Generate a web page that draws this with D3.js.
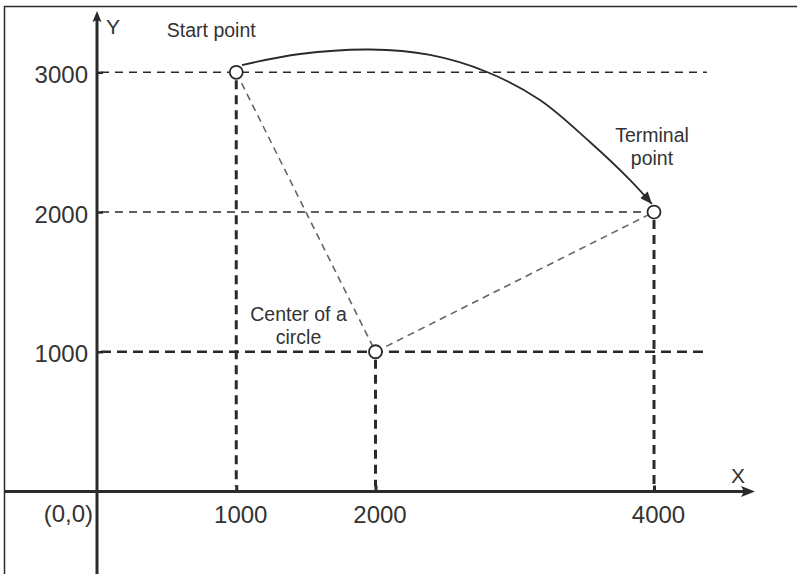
<!DOCTYPE html>
<html>
<head>
<meta charset="utf-8">
<script src="https://cdn.jsdelivr.net/npm/d3@7"></script>
<style>
  html, body { margin: 0; padding: 0; background: #fff; }
  svg { display: block; }
  text { font-family: "Liberation Sans", Arial, sans-serif; fill: #333; }
</style>
</head>
<body>
<svg id="chart" width="797" height="574"></svg>
<script>
// ---- data ----
const xTicks = [1000, 2000, 4000];
const yTicks = [1000, 2000, 3000];
const startPoint = { x: 1000, y: 3000 };
const centerPoint = { x: 2000, y: 1000 };
const terminalPoint = { x: 4000, y: 2000 };
const startLabel = ["Start point"];
const centerLabel = ["Center of a", "circle"];
const terminalLabel = ["Terminal", "point"];
const originLabel = "(0,0)";
const xAxisLabel = "X";
const yAxisLabel = "Y";
// arc from start to terminal point (data units)
const arcX = [1041, 1458, 1961, 2391, 2801, 3181, 3540, 3827, 3985];
const arcY = [3052, 3131, 3163, 3124, 3002, 2802, 2501, 2230, 2058];

// ---- layout ----
const W = 797, H = 574;
const svg = d3.select("#chart");
const x = d3.scaleLinear().domain([0, 4000]).range([97, 654]);
const y = d3.scaleLinear().domain([0, 3000]).range([491.5, 72.3]);
const ink = "#2b2b2b";

// frame (top and left)
svg.append("path").attr("d", `M4.5,${H} V6.5 H${W}`)
  .attr("fill", "none").attr("stroke", ink).attr("stroke-width", 1.5);

// horizontal guides
const hGuides = [
  { v: 3000, x1: 0, x2: 4380, w: 1.6, dash: "8,6" },
  { v: 2000, x1: 0, x2: 3960, w: 1.6, dash: "8,6" },
  { v: 1000, x1: 0, x2: 4390, w: 2.6, dash: "10,6" }
];
svg.append("g").selectAll("line").data(hGuides).join("line")
  .attr("x1", d => x(d.x1) + 4).attr("x2", d => x(d.x2))
  .attr("y1", d => y(d.v)).attr("y2", d => y(d.v))
  .attr("stroke", ink).attr("stroke-width", d => d.w)
  .attr("stroke-dasharray", d => d.dash);

// vertical guides from points down to x axis
const vPts = [startPoint, centerPoint, terminalPoint];
svg.append("g").selectAll("line").data(vPts).join("line")
  .attr("x1", d => x(d.x)).attr("x2", d => x(d.x))
  .attr("y1", d => y(d.y) + 8).attr("y2", y(0) - 5)
  .attr("stroke", ink).attr("stroke-width", 3)
  .attr("stroke-dasharray", "9,6");

// diagonal radius lines
const radii = [[startPoint, centerPoint], [centerPoint, terminalPoint]];
svg.append("g").selectAll("line").data(radii).join("line")
  .attr("x1", d => x(d[0].x)).attr("y1", d => y(d[0].y))
  .attr("x2", d => x(d[1].x)).attr("y2", d => y(d[1].y))
  .attr("stroke", "#666").attr("stroke-width", 1.6)
  .attr("stroke-dasharray", "7,5");

// axes via d3 axis generators
const yAxis = d3.axisLeft(y).tickValues(yTicks).tickFormat(d3.format("d"))
  .tickSizeInner(-6).tickSizeOuter(0).tickPadding(9);
const gy = svg.append("g").attr("transform", `translate(${x(0)},0)`).call(yAxis);
gy.select(".domain").remove();
gy.selectAll(".tick line").attr("stroke", ink).attr("stroke-width", 2.5);
gy.selectAll(".tick text").attr("font-size", 24).attr("dy", "0.42em")
  .attr("fill", "#333").style("font-family", "'Liberation Sans', Arial, sans-serif");

const xAxis = d3.axisBottom(x).tickValues(xTicks).tickFormat(d3.format("d"))
  .tickSizeInner(-6).tickSizeOuter(0).tickPadding(14);
const gx = svg.append("g").attr("transform", `translate(0,${y(0)})`).call(xAxis);
gx.select(".domain").remove();
gx.selectAll(".tick line").attr("stroke", ink).attr("stroke-width", 3);
gx.selectAll(".tick text").attr("font-size", 24).attr("x", 4)
  .attr("fill", "#333").style("font-family", "'Liberation Sans', Arial, sans-serif");

// axis lines with arrows
svg.append("line").attr("x1", 4).attr("x2", 748).attr("y1", y(0)).attr("y2", y(0))
  .attr("stroke", ink).attr("stroke-width", 3);
svg.append("path")
  .attr("d", `M755,${y(0)} L741,${y(0) - 5.5} L744,${y(0)} L741,${y(0) + 5.5} Z`)
  .attr("fill", ink);
svg.append("line").attr("x1", x(0)).attr("x2", x(0)).attr("y1", H).attr("y2", 18)
  .attr("stroke", ink).attr("stroke-width", 3);
svg.append("path")
  .attr("d", `M${x(0)},11 L${x(0) - 4.5},22 L${x(0)},20 L${x(0) + 4.5},22 Z`)
  .attr("fill", ink);

// arc with arrowhead
svg.append("defs").append("marker")
  .attr("id", "arrow").attr("viewBox", "0 0 12 10")
  .attr("refX", 12).attr("refY", 5)
  .attr("markerWidth", 13).attr("markerHeight", 10)
  .attr("markerUnits", "userSpaceOnUse").attr("orient", "auto")
  .append("path").attr("d", "M0,0 L12,5 L0,10 Z").attr("fill", ink);

const arcData = arcX.map((v, i) => [v, arcY[i]]);
svg.append("path")
  .datum(arcData)
  .attr("d", d3.line().x(d => x(d[0])).y(d => y(d[1])).curve(d3.curveCatmullRom.alpha(0.5)))
  .attr("fill", "none").attr("stroke", ink).attr("stroke-width", 1.8)
  .attr("marker-end", "url(#arrow)");

// points
svg.append("g").selectAll("circle").data(vPts).join("circle")
  .attr("cx", d => x(d.x)).attr("cy", d => y(d.y)).attr("r", 6.5)
  .attr("fill", "#fff").attr("stroke", ink).attr("stroke-width", 1.8);

// labels
function multiLabel(lines, cx, baseY, lh) {
  const t = svg.append("text").attr("text-anchor", "middle").attr("font-size", 19.5);
  lines.forEach((s, i) => t.append("tspan").attr("x", cx).attr("y", baseY + i * lh).text(s));
}
multiLabel(startLabel, x(startPoint.x) - 25, y(startPoint.y) - 35, 23);
multiLabel(centerLabel, x(centerPoint.x) - 77, y(centerPoint.y) - 31, 23);
multiLabel(terminalLabel, x(terminalPoint.x) - 2, y(terminalPoint.y) - 70, 23);

svg.append("text").attr("x", x(0) - 4).attr("y", y(0) + 30.5)
  .attr("text-anchor", "end").attr("font-size", 24).text(originLabel);
svg.append("text").attr("x", 106).attr("y", 34).attr("font-size", 21).text(yAxisLabel);
svg.append("text").attr("x", 731).attr("y", 483).attr("font-size", 21).text(xAxisLabel);
</script>
</body>
</html>
